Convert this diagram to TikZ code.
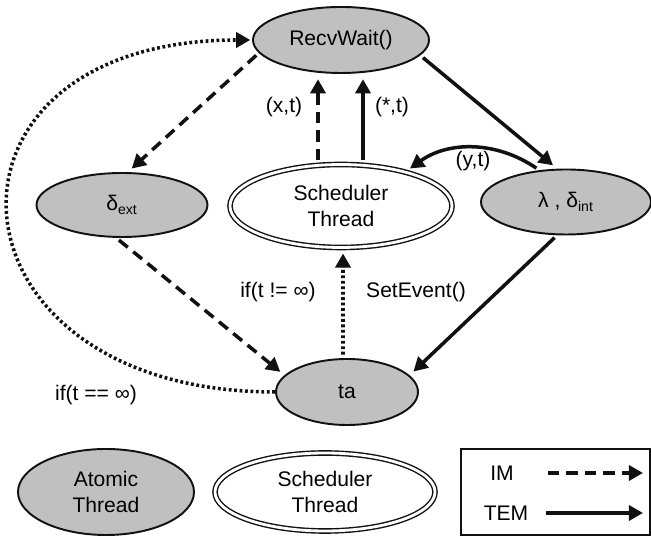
\documentclass[tikz,border=0pt]{standalone}
\usepackage{fontspec}
\setmainfont{Liberation Sans}
\usepackage{tikz}
\usepackage{xcolor}
\usetikzlibrary{
  arrows.meta, shapes.geometric, calc,
}
\definecolor{cInk}     {HTML}{111111}
\definecolor{cAtomic}  {HTML}{C0C0C0}

\begin{document}
\begin{tikzpicture}[
    font=\fontsize{12}{14.5}\selectfont,
    thread/.style={ellipse, draw=cInk, line width=1.1pt, fill=cAtomic, inner sep=0pt, align=center},
    schedring/.style={ellipse, draw=cInk, line width=0.8pt, double=white, double distance=1.6pt, inner sep=0pt, align=center},
    link/.style={draw=cInk, line width=2pt, -{Triangle[length=8pt, width=8.5pt]}, shorten >=3pt, shorten <=2pt},
    imarrow/.style={link, dash pattern=on 6.5pt off 4pt},
    temarrow/.style={link},
    evarrow/.style={link, dash pattern=on 1.6pt off 1.5pt},
  ]
  \useasboundingbox (0,0) rectangle (13.02,10.72);

  % threads
  \node[thread, minimum width=3.52cm, minimum height=1.32cm] (recv) at (6.82, 9.92) {RecvWait()};
  \node[thread, minimum width=3.42cm, minimum height=1.28cm] (dext) at (2.44, 6.62) {δ\textsubscript{ext}};
  \node[schedring, minimum width=4.44cm, minimum height=1.66cm] (sched) at (6.82, 6.60) {Scheduler\\Thread};
  \node[thread, minimum width=3.40cm, minimum height=1.30cm] (lam) at (11.32, 6.68) {λ , δ\textsubscript{int}};
  \node[thread, minimum width=2.84cm, minimum height=1.32cm] (ta) at (6.94, 2.88) {ta};

  % messages
  \draw[imarrow] (recv.189) -- (dext.80);
  \draw[imarrow] (dext.260) -- (ta.165);
  \draw[imarrow] ([xshift=-4.6mm]sched.north) -- ([xshift=-4.6mm]recv.south);
  \draw[temarrow] ([xshift=4.4mm]sched.north) -- ([xshift=4.4mm]recv.south);
  \draw[temarrow] (recv.349) -- (lam.105);
  \draw[temarrow] (lam.130) to[bend right=35] (sched.28);
  \draw[temarrow] (lam.255) -- (ta.15);
  \draw[evarrow] ([xshift=-0.8mm]ta.north) -- ([xshift=0.4mm]sched.south);
  \draw[evarrow, shorten <=0pt, shorten >=1pt] (ta.west) .. controls +(-6.8,0) and +(-6.8,0) .. (recv.west);

  \node (lxt) at (5.68, 8.58) {(x,t)};
  \node (lst) at (7.84, 8.58) {(*,t)};
  \node (lyt) at (9.46, 7.50) {(y,t)};
  \node (lne) at (5.56, 4.88) {if(t != ∞)};
  \node (lset) at (8.32, 4.88) {SetEvent()};
  \node (leq) at (1.92, 2.82) {if(t == ∞)};

  % key
  \node[thread, minimum width=3.52cm, minimum height=1.72cm] (katomic) at (2.12, 0.88) {Atomic\\Thread};
  \node[schedring, minimum width=4.40cm, minimum height=1.56cm] (ksched) at (6.50, 0.88) {Scheduler\\Thread};
  \node[draw=cInk, line width=0.9pt, minimum width=3.78cm, minimum height=1.72cm] (kbox) at (11.11, 0.88) {};
  \node (kim) at (10.04, 1.26) {IM};
  \node (ktem) at (10.12, 0.46) {TEM};
  \coordinate (kimA) at (10.96, 1.26);
  \coordinate (kimB) at (12.86, 1.26);
  \coordinate (ktemA) at (10.92, 0.46);
  \coordinate (ktemB) at (12.86, 0.46);
  \draw[imarrow, shorten >=0pt, shorten <=0pt] (kimA) -- (kimB);
  \draw[temarrow, shorten >=0pt, shorten <=0pt] (ktemA) -- (ktemB);
\end{tikzpicture}
\end{document}
